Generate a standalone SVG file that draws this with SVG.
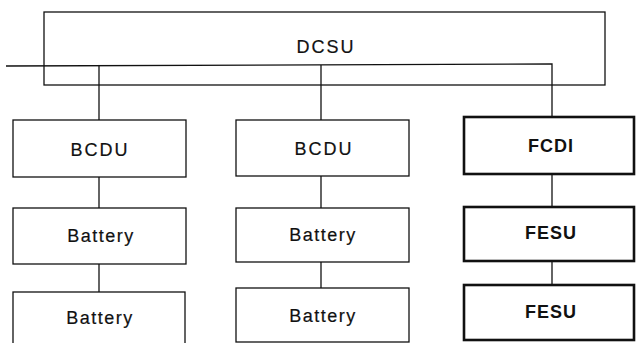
<svg xmlns="http://www.w3.org/2000/svg" width="636" height="343" viewBox="0 0 636 343">
<style>
.box{fill:#fff;stroke:#111;stroke-width:1.3}
.bold{fill:#fff;stroke:#111;stroke-width:2.6}
.ln{fill:none;stroke:#111;stroke-width:1.3}
.t{font-family:"Liberation Sans",Arial,sans-serif;font-size:18px;fill:#111;stroke:#111;stroke-width:0.2;text-anchor:middle}
.tb{font-family:"Liberation Sans",Arial,sans-serif;font-size:18px;font-weight:bold;fill:#111;text-anchor:middle}
</style>
<rect width="636" height="343" fill="#fff"/>
<g id="dcsu">
<rect class="box" x="44" y="12" width="561" height="73"/>
<text class="t" x="326" y="53" style="letter-spacing:2px">DCSU</text>
</g>
<g id="connectors">
<polyline class="ln" points="6,66 552,64 552,117"/>
<line class="ln" x1="99" y1="66" x2="99" y2="120"/>
<line class="ln" x1="321" y1="65" x2="321" y2="120"/>
<line class="ln" x1="99" y1="177" x2="99" y2="208"/>
<line class="ln" x1="99" y1="264" x2="99" y2="292"/>
<line class="ln" x1="321" y1="176" x2="321" y2="208"/>
<line class="ln" x1="321" y1="262" x2="321" y2="288"/>
<line class="ln" x1="552" y1="174" x2="552" y2="207"/>
<line class="ln" x1="552" y1="261" x2="552" y2="285"/>
</g>
<g id="bcdu1">
<rect class="box" x="13" y="120" width="173" height="57"/>
<text class="t" x="100" y="156" style="letter-spacing:2px">BCDU</text>
</g>
<g id="battery1a">
<rect class="box" x="13" y="208" width="173" height="56"/>
<text class="t" x="101" y="242" style="letter-spacing:1.5px">Battery</text>
</g>
<g id="battery1b">
<rect class="box" x="13" y="292" width="172" height="56"/>
<text class="t" x="100" y="324" style="letter-spacing:1.5px">Battery</text>
</g>
<g id="bcdu2">
<rect class="box" x="236" y="120" width="173" height="56"/>
<text class="t" x="324" y="155" style="letter-spacing:2px">BCDU</text>
</g>
<g id="battery2a">
<rect class="box" x="236" y="208" width="173" height="54"/>
<text class="t" x="323" y="241" style="letter-spacing:1.5px">Battery</text>
</g>
<g id="battery2b">
<rect class="box" x="236" y="288" width="173" height="54"/>
<text class="t" x="323" y="322" style="letter-spacing:1.5px">Battery</text>
</g>
<g id="fcdi">
<rect class="bold" x="464" y="117" width="170" height="57"/>
<text class="tb" x="551" y="152" style="letter-spacing:1px">FCDI</text>
</g>
<g id="fesu1">
<rect class="bold" x="464" y="207" width="170" height="54"/>
<text class="tb" x="551" y="239" style="letter-spacing:1px">FESU</text>
</g>
<g id="fesu2">
<rect class="bold" x="464" y="285" width="170" height="55"/>
<text class="tb" x="551" y="318" style="letter-spacing:1px">FESU</text>
</g>
</svg>
